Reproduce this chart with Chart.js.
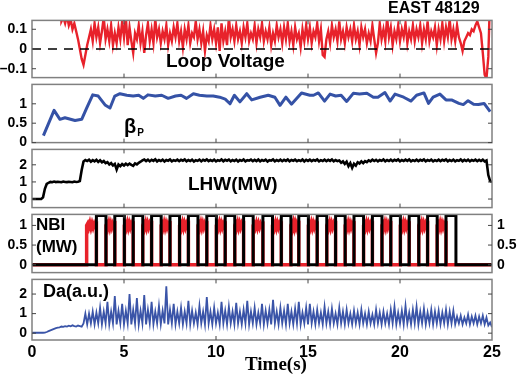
<!DOCTYPE html>
<html>
<head>
<meta charset="utf-8">
<script src="https://cdn.jsdelivr.net/npm/chart.js@4.4.0/dist/chart.umd.min.js"></script>
<style>
  body { margin: 0; background: #fff; }
  #wrap { position: relative; width: 520px; height: 374px; overflow: hidden; font-family: "Liberation Sans", Arial, Helvetica, sans-serif; }
  #wrap canvas { position: absolute; left: 0; }
  .lbl { position: absolute; font-weight: bold; line-height: 1; white-space: nowrap; color: #000; }
</style>
</head>
<body>
<div id="wrap">
  <canvas id="p1" width="520" height="84" style="top:7px"></canvas>
  <canvas id="p2" width="520" height="85" style="top:71px"></canvas>
  <canvas id="p3" width="520" height="85" style="top:136px"></canvas>
  <canvas id="p4" width="520" height="85" style="top:201px"></canvas>
  <canvas id="p5" width="520" height="108" style="top:266px"></canvas>

  <div class="lbl" style="left:388px;top:0px;font-size:16px">EAST 48129</div>
  <div class="lbl" style="left:166px;top:51px;font-size:19px">Loop Voltage</div>
  <div class="lbl" style="left:124px;top:116px;font-size:20px">β<span style="font-size:10px;position:relative;top:3px;left:1px">P</span></div>
  <div class="lbl" style="left:188px;top:174px;font-size:19px">LHW(MW)</div>
  <div class="lbl" style="left:36px;top:216px;font-size:17px">NBI</div>
  <div class="lbl" style="left:36px;top:238px;font-size:17px">(MW)</div>
  <div class="lbl" style="left:43px;top:282px;font-size:18px">Da(a.u.)</div>
  <div class="lbl" style="left:245px;top:354px;font-size:19px;font-family:'Liberation Serif','Times New Roman',serif">Time(s)</div>
</div>
<script>
// time base of the sampled signals (s)
const SAMPLE_STEP = 0.1;
const timeTicks = [0, 5, 10, 15, 20, 25];

// loop voltage (V), one value every 0.1 s from 0 to 25 s
const loopVoltage = [
  null, null, null, null, null, 0.6, 0.6, 0.6, 0.6, 0.6,
  0.6, 0.6, 0.6, 0.6, 0.6, 0.6, 0.14, 0.16, 0.13, 0.17,
  0.12, 0.15, 0.10, 0.13, 0.09, 0.05, 0.00, -0.05, -0.08, -0.03,
  0.02, 0.06, 0.10, 0.04, 0.13, 0.06, 0.11, 0.03, 0.09, 0.16,
  0.05, 0.10, 0.04, 0.12, 0.02, 0.08, 0.03, 0.11, 0.05, 0.14,
  0.06, 0.16, 0.02, 0.11, 0.04, -0.02, 0.08, 0.05, 0.12, 0.03,
  0.09, -0.02, 0.07, 0.13, 0.04, 0.10, 0.03, 0.15, 0.06, 0.10,
  0.03, 0.09, 0.05, 0.12, 0.02, 0.08, 0.04, 0.11, 0.06, 0.13,
  0.04, 0.09, 0.01, 0.10, 0.05, 0.12, 0.03, 0.08, 0.06, 0.14,
  0.05, 0.10, 0.03, 0.09, -0.01, 0.07, 0.04, 0.12, 0.05, 0.10,
  0.03, 0.11, -0.01, 0.13, 0.04, 0.09, 0.02, 0.16, 0.06, 0.10,
  0.04, 0.12, 0.05, 0.09, 0.03, 0.11, 0.06, 0.13, 0.04, 0.08,
  0.05, 0.12, 0.03, 0.10, 0.06, 0.13, 0.04, 0.09, 0.05, 0.11,
  0.02, 0.08, 0.04, 0.12, 0.06, 0.10, 0.03, 0.11, 0.05, 0.13,
  0.04, 0.09, 0.02, 0.11, 0.05, 0.08, 0.01, 0.10, 0.04, 0.12,
  0.05, 0.11, 0.03, 0.09, 0.06, 0.13, 0.04, 0.10, -0.03, -0.04,
  0.05, 0.09, 0.03, 0.12, 0.06, 0.10, 0.04, 0.14, 0.05, 0.09,
  0.03, 0.11, 0.06, 0.10, 0.04, 0.12, 0.05, 0.09, 0.02, 0.11,
  0.06, 0.10, 0.03, 0.08, 0.04, 0.12, 0.05, -0.02, 0.03, 0.13,
  0.05, 0.10, 0.04, 0.16, 0.06, 0.11, 0.02, 0.09, 0.05, 0.12,
  0.04, 0.10, 0.06, 0.13, 0.03, 0.09, 0.05, 0.12, 0.04, 0.10,
  0.06, 0.12, 0.03, 0.10, 0.05, 0.14, 0.04, 0.09, 0.06, 0.11,
  0.02, 0.10, 0.05, 0.13, 0.04, 0.11, 0.06, 0.15, 0.05, 0.10,
  0.04, 0.12, 0.06, 0.03, -0.01, 0.04, 0.06, 0.08, 0.07, 0.10,
  0.09, 0.12, 0.14, 0.11, 0.08, -0.02, -0.13, -0.15, -0.04, 0.3,
  0.6
];

// poloidal beta, sparse points
const betaTime = [0.62, 1.2, 1.52, 1.79, 2.34, 2.7, 2.97, 3.3, 3.6, 3.97, 4.24, 4.5, 4.78, 5.15, 5.5, 5.8, 6.05, 6.3, 6.7, 7.05,
  7.4, 7.8, 8.1, 8.4, 8.77, 9.1, 9.5, 9.85, 10.2, 10.5, 10.76, 11.0, 11.3, 11.67, 11.94, 12.4, 12.84, 13.2, 13.48, 13.8,
  14.1, 14.65, 15.1, 15.3, 15.56, 15.9, 16.2, 16.5, 16.8, 17.1, 17.46, 17.8, 18.2, 18.55, 18.8, 19.18, 19.46, 19.73, 20.2, 20.6,
  20.9, 21.3, 21.55, 21.8, 22.17, 22.5, 22.8, 23.2, 23.44, 23.7, 24.0, 24.26, 24.57, 24.9];
const betaValue = [0.18, 0.83, 0.6, 0.64, 0.57, 0.6, 0.89, 1.23, 1.2, 0.97, 0.89, 1.2, 1.26, 1.22, 1.2, 1.22, 1.14, 1.23, 1.2, 1.22,
  1.14, 1.2, 1.22, 1.14, 1.26, 1.22, 1.2, 1.2, 1.17, 1.12, 1.0, 1.22, 1.05, 1.26, 1.1, 1.17, 1.22, 1.17, 0.96, 1.17,
  0.99, 1.28, 1.22, 1.22, 1.28, 1.07, 1.25, 1.2, 1.22, 1.06, 1.27, 1.25, 1.27, 1.17, 1.17, 1.29, 1.07, 1.25, 1.17, 1.07,
  1.22, 1.28, 1.01, 1.17, 1.25, 1.1, 1.1, 1.01, 0.98, 1.08, 0.99, 0.98, 1.01, 0.8];

// lower hybrid wave power (MW), every 0.1 s
const lhwPower = [
  0, 0, 0, 0, 0, 0, 0.1, 0.6, 0.88, 0.95,
  1.0, 0.98, 1.02, 0.99, 1.01, 1.0, 0.98, 1.02, 1.0, 0.99,
  1.01, 1.0, 0.98, 1.02, 1.0, 1.01, 1.05, 1.7, 2.2, 2.28,
  2.22, 2.3, 2.18, 2.27, 2.2, 2.29, 2.17, 2.26, 2.15, 2.22,
  2.1, 2.16, 2.02, 2.1, 1.96, 2.05, 1.72, 2.02, 1.92, 2.04,
  1.96, 2.06, 1.98, 2.07, 2.0, 1.94, 2.08, 2.02, 2.12, 2.18,
  2.26, 2.31, 2.22, 2.3, 2.2, 2.29, 2.23, 2.32, 2.2, 2.28,
  2.22, 2.3, 2.19, 2.28, 2.24, 2.31, 2.2, 2.27, 2.23, 2.3,
  2.21, 2.29, 2.24, 2.31, 2.2, 2.28, 2.22, 2.3, 2.19, 2.27,
  2.23, 2.3, 2.2, 2.29, 2.24, 2.31, 2.21, 2.28, 2.22, 2.3,
  2.2, 2.27, 2.23, 2.31, 2.21, 2.29, 2.24, 2.3, 2.2, 2.28,
  2.22, 2.3, 2.19, 2.28, 2.23, 2.31, 2.2, 2.27, 2.24, 2.3,
  2.21, 2.29, 2.22, 2.31, 2.2, 2.28, 2.23, 2.3, 2.19, 2.27,
  2.24, 2.31, 2.2, 2.28, 2.22, 2.3, 2.21, 2.29, 2.23, 2.31,
  2.2, 2.28, 2.24, 2.3, 2.21, 2.27, 2.22, 2.31, 2.2, 2.29,
  2.23, 2.3, 2.21, 2.28, 2.24, 2.31, 2.2, 2.27, 2.22, 2.3,
  2.21, 2.29, 2.23, 2.31, 2.2, 2.28, 2.22, 2.25, 2.12, 2.2,
  2.05, 2.18, 1.92, 2.1, 1.82, 2.06, 1.95, 2.15, 2.08, 2.2,
  2.1, 2.22, 2.16, 2.26, 2.2, 2.3, 2.22, 2.29, 2.2, 2.28,
  2.23, 2.31, 2.2, 2.28, 2.22, 2.3, 2.21, 2.29, 2.24, 2.31,
  2.2, 2.28, 2.22, 2.3, 2.23, 2.31, 2.2, 2.27, 2.22, 2.3,
  2.21, 2.29, 2.24, 2.31, 2.2, 2.28, 2.23, 2.3, 2.2, 2.27,
  2.22, 2.3, 2.21, 2.29, 2.24, 2.31, 2.2, 2.28, 2.22, 2.3,
  2.2, 2.27, 2.23, 2.31, 2.21, 2.29, 2.22, 2.3, 2.2, 2.28,
  2.23, 2.3, 2.21, 2.29, 2.22, 2.3, 2.2, 2.25, 1.4, 1.05,
  1.0
];

// NBI modulation: switch-on / switch-off times (s) of the modulated source
const nbiRise = [3.5, 4.5, 5.5, 6.5, 7.5, 8.5, 9.5, 10.5, 11.5, 12.55, 13.55, 14.5, 15.5, 16.5, 17.5, 18.5, 19.5, 20.5, 21.5, 22.5];
const nbiFall = [4.02, 5.02, 6.02, 7.02, 8.02, 9.02, 10.02, 11.02, 12.02, 13.07, 14.07, 15.02, 16.02, 17.02, 18.02, 19.02, 20.02, 21.02, 22.02, 23.04];
const nbiPulseLevel = 1.25;
const nbiRedStart = 2.97;
const nbiRedLevel = [1.0, 1.05, 0.95, 1.06, 0.94, 1.05, 0.95, 1.04, 0.97, 1.0];

// D-alpha (a.u.), every 0.1 s
const dAlpha = [
  0.02, 0.02, 0.02, 0.02, 0.02, 0.02, 0.02, 0.03, 0.06, 0.1,
  0.14, 0.18, 0.22, 0.26, 0.28, 0.3, 0.34, 0.32, 0.36, 0.34,
  0.38, 0.35, 0.4, 0.36, 0.34, 0.39, 0.36, 0.33, 0.5, 1.0,
  0.45, 1.0, 0.5, 1.1, 0.45, 1.05, 0.5, 1.3, 0.45, 1.1,
  0.5, 1.6, 0.45, 1.1, 0.5, 1.9, 0.45, 1.15, 0.5, 1.5,
  0.45, 1.15, 0.5, 2.0, 0.45, 1.2, 0.5, 1.8, 0.45, 1.15,
  0.5, 1.95, 0.45, 1.2, 0.5, 1.6, 0.45, 1.1, 0.5, 1.4,
  0.45, 1.15, 0.5, 2.4, 0.45, 1.2, 0.5, 1.5, 0.45, 1.1,
  0.5, 1.3, 0.45, 1.1, 0.5, 1.65, 0.45, 1.15, 0.5, 1.05,
  0.45, 1.4, 0.5, 1.1, 0.45, 1.85, 0.5, 1.1, 0.45, 1.3,
  0.5, 1.05, 0.45, 1.6, 0.5, 1.15, 0.45, 1.35, 0.5, 1.1,
  0.45, 1.55, 0.5, 1.1, 0.45, 1.2, 0.5, 1.65, 0.45, 1.1,
  0.5, 1.3, 0.45, 1.05, 0.5, 1.5, 0.45, 1.15, 0.5, 1.2,
  0.45, 1.7, 0.5, 1.1, 0.45, 1.3, 0.5, 1.15, 0.45, 1.5,
  0.5, 1.1, 0.45, 1.25, 0.5, 1.6, 0.45, 1.05, 0.5, 1.3,
  0.45, 1.5, 0.5, 1.1, 0.45, 1.2, 0.5, 1.05, 0.45, 1.35,
  0.5, 1.1, 0.45, 1.25, 0.5, 1.0, 0.45, 1.3, 0.5, 1.1,
  0.45, 1.2, 0.5, 1.0, 0.45, 1.15, 0.5, 1.05, 0.45, 1.2,
  0.5, 1.0, 0.45, 1.1, 0.5, 0.95, 0.45, 1.2, 0.5, 1.05,
  0.45, 1.1, 0.5, 1.0, 0.45, 1.2, 0.5, 1.35, 0.45, 1.05,
  0.5, 1.15, 0.45, 1.4, 0.5, 1.05, 0.45, 1.2, 0.5, 1.35,
  0.45, 1.1, 0.5, 1.25, 0.45, 1.05, 0.5, 1.2, 0.45, 1.1,
  0.5, 1.15, 0.45, 1.05, 0.5, 1.2, 0.45, 1.1, 0.5, 1.15,
  0.45, 0.85, 0.5, 0.9, 0.45, 0.8, 0.5, 0.95, 0.45, 0.85,
  0.5, 0.9, 0.45, 0.85, 0.5, 0.9, 0.45, 0.8, 0.4, 0.55,
  0.3
];

const FONT = '"Liberation Sans", Arial, Helvetica, sans-serif';
const RED = '#e8222b';
const BLUE = '#3552a6';

const sampled = values => values.map((v, i) => ({ x: i * SAMPLE_STEP, y: v }));

// square wave of the modulated beam, and the complementary red trace
function nbiBlackPoints() {
  const pts = [{ x: 0, y: 0 }];
  nbiRise.forEach((t, i) => {
    pts.push({ x: t, y: 0 }, { x: t, y: nbiPulseLevel }, { x: nbiFall[i], y: nbiPulseLevel }, { x: nbiFall[i], y: 0 });
  });
  pts.push({ x: 25, y: 0 });
  return pts;
}

function nbiRedPoints() {
  const segs = [[nbiRedStart, nbiRise[0]]];
  for (let i = 0; i < nbiFall.length - 1; i++) segs.push([nbiFall[i], nbiRise[i + 1]]);
  const pts = [{ x: 0, y: 0 }];
  segs.forEach(([a, b]) => {
    pts.push({ x: a, y: 0 });
    nbiRedLevel.forEach((v, k) => pts.push({ x: a + (b - a) * k / (nbiRedLevel.length - 1), y: v }));
    pts.push({ x: b, y: 0 });
  });
  pts.push({ x: 25, y: 0 });
  return pts;
}

const fixedTicks = values => scale => { scale.ticks = values.map(v => ({ value: v })); };
const tickLabel = v => (v < 0 ? '–' + Math.abs(v) : String(v));

// frame round each panel with small inward ticks
const framePlugin = {
  id: 'frame',
  afterDatasetsDraw(chart) {
    const { ctx, chartArea: a, scales } = chart;
    ctx.save();
    ctx.strokeStyle = '#808080';
    ctx.lineWidth = 1.5;
    ctx.strokeRect(a.left, a.top, a.right - a.left, a.bottom - a.top);
    ctx.strokeStyle = '#444';
    ctx.lineWidth = 1;
    ctx.beginPath();
    timeTicks.slice(1, -1).forEach(v => {
      const x = scales.x.getPixelForValue(v);
      ctx.moveTo(x, a.top); ctx.lineTo(x, a.top + 4);
      ctx.moveTo(x, a.bottom); ctx.lineTo(x, a.bottom - 4);
    });
    scales.y.ticks.forEach(t => {
      const y = scales.y.getPixelForValue(t.value);
      ctx.moveTo(a.left, y); ctx.lineTo(a.left + 4, y);
      ctx.moveTo(a.right, y); ctx.lineTo(a.right - 4, y);
    });
    ctx.stroke();
    ctx.restore();
  }
};

function yScale(min, max, ticks, position) {
  return {
    position,
    min, max,
    afterBuildTicks: fixedTicks(ticks),
    afterFit: s => { s.width = position === 'right' ? 28 : 32; },
    grid: { display: false, drawTicks: false },
    border: { display: false },
    ticks: { color: '#000', padding: 5, font: { family: FONT, size: 14, weight: 'bold' }, callback: tickLabel }
  };
}

function makePanel(id, { yMin, yMax, yTicks, datasets, showX = false, rightAxis = false }) {
  const scales = {
    x: {
      type: 'linear', min: 0, max: 25, display: showX,
      afterBuildTicks: fixedTicks(timeTicks),
      grid: { display: false, drawTicks: false },
      border: { display: false },
      ticks: { color: '#000', padding: 3, maxRotation: 0, font: { family: FONT, size: 16, weight: 'bold' } }
    },
    y: yScale(yMin, yMax, yTicks, 'left')
  };
  if (showX) scales.x.afterFit = s => { s.height = 34; };
  if (rightAxis) scales.y2 = yScale(yMin, yMax, yTicks, 'right');

  return new Chart(document.getElementById(id), {
    type: 'line',
    data: { datasets },
    options: {
      responsive: false,
      animation: false,
      devicePixelRatio: 1,
      layout: { padding: { top: 10, bottom: showX ? 0 : 10, left: 0, right: rightAxis ? 0 : 28 } },
      plugins: { legend: { display: false }, tooltip: { enabled: false } },
      elements: { point: { radius: 0 }, line: { tension: 0 } },
      scales
    },
    plugins: [framePlugin]
  });
}

makePanel('p1', {
  yMin: -0.145, yMax: 0.145, yTicks: [-0.1, 0, 0.1],
  datasets: [
    { data: [{ x: 0, y: 0 }, { x: 25, y: 0 }], borderColor: '#000', borderWidth: 1.3, borderDash: [9, 7] },
    { data: sampled(loopVoltage), borderColor: RED, borderWidth: 2.4 }
  ]
});

makePanel('p2', {
  yMin: 0, yMax: 1.5, yTicks: [0, 0.5, 1],
  datasets: [
    { data: betaTime.map((t, i) => ({ x: t, y: betaValue[i] })), borderColor: BLUE, borderWidth: 3, borderJoinStyle: 'round' }
  ]
});

makePanel('p3', {
  yMin: -0.5, yMax: 2.9, yTicks: [0, 1, 2],
  datasets: [
    { data: sampled(lhwPower), borderColor: '#000', borderWidth: 2.6 }
  ]
});

makePanel('p4', {
  yMin: -0.2, yMax: 1.28, yTicks: [0, 0.5, 1], rightAxis: true,
  datasets: [
    { data: nbiBlackPoints(), borderColor: '#000', borderWidth: 3 },
    { data: nbiRedPoints(), borderColor: RED, borderWidth: 3.5 }
  ]
});

makePanel('p5', {
  yMin: -0.35, yMax: 2.75, yTicks: [0, 1, 2], showX: true,
  datasets: [
    { data: sampled(dAlpha), borderColor: '#3a54a8', borderWidth: 1.8 }
  ]
});
</script>
</body>
</html>
